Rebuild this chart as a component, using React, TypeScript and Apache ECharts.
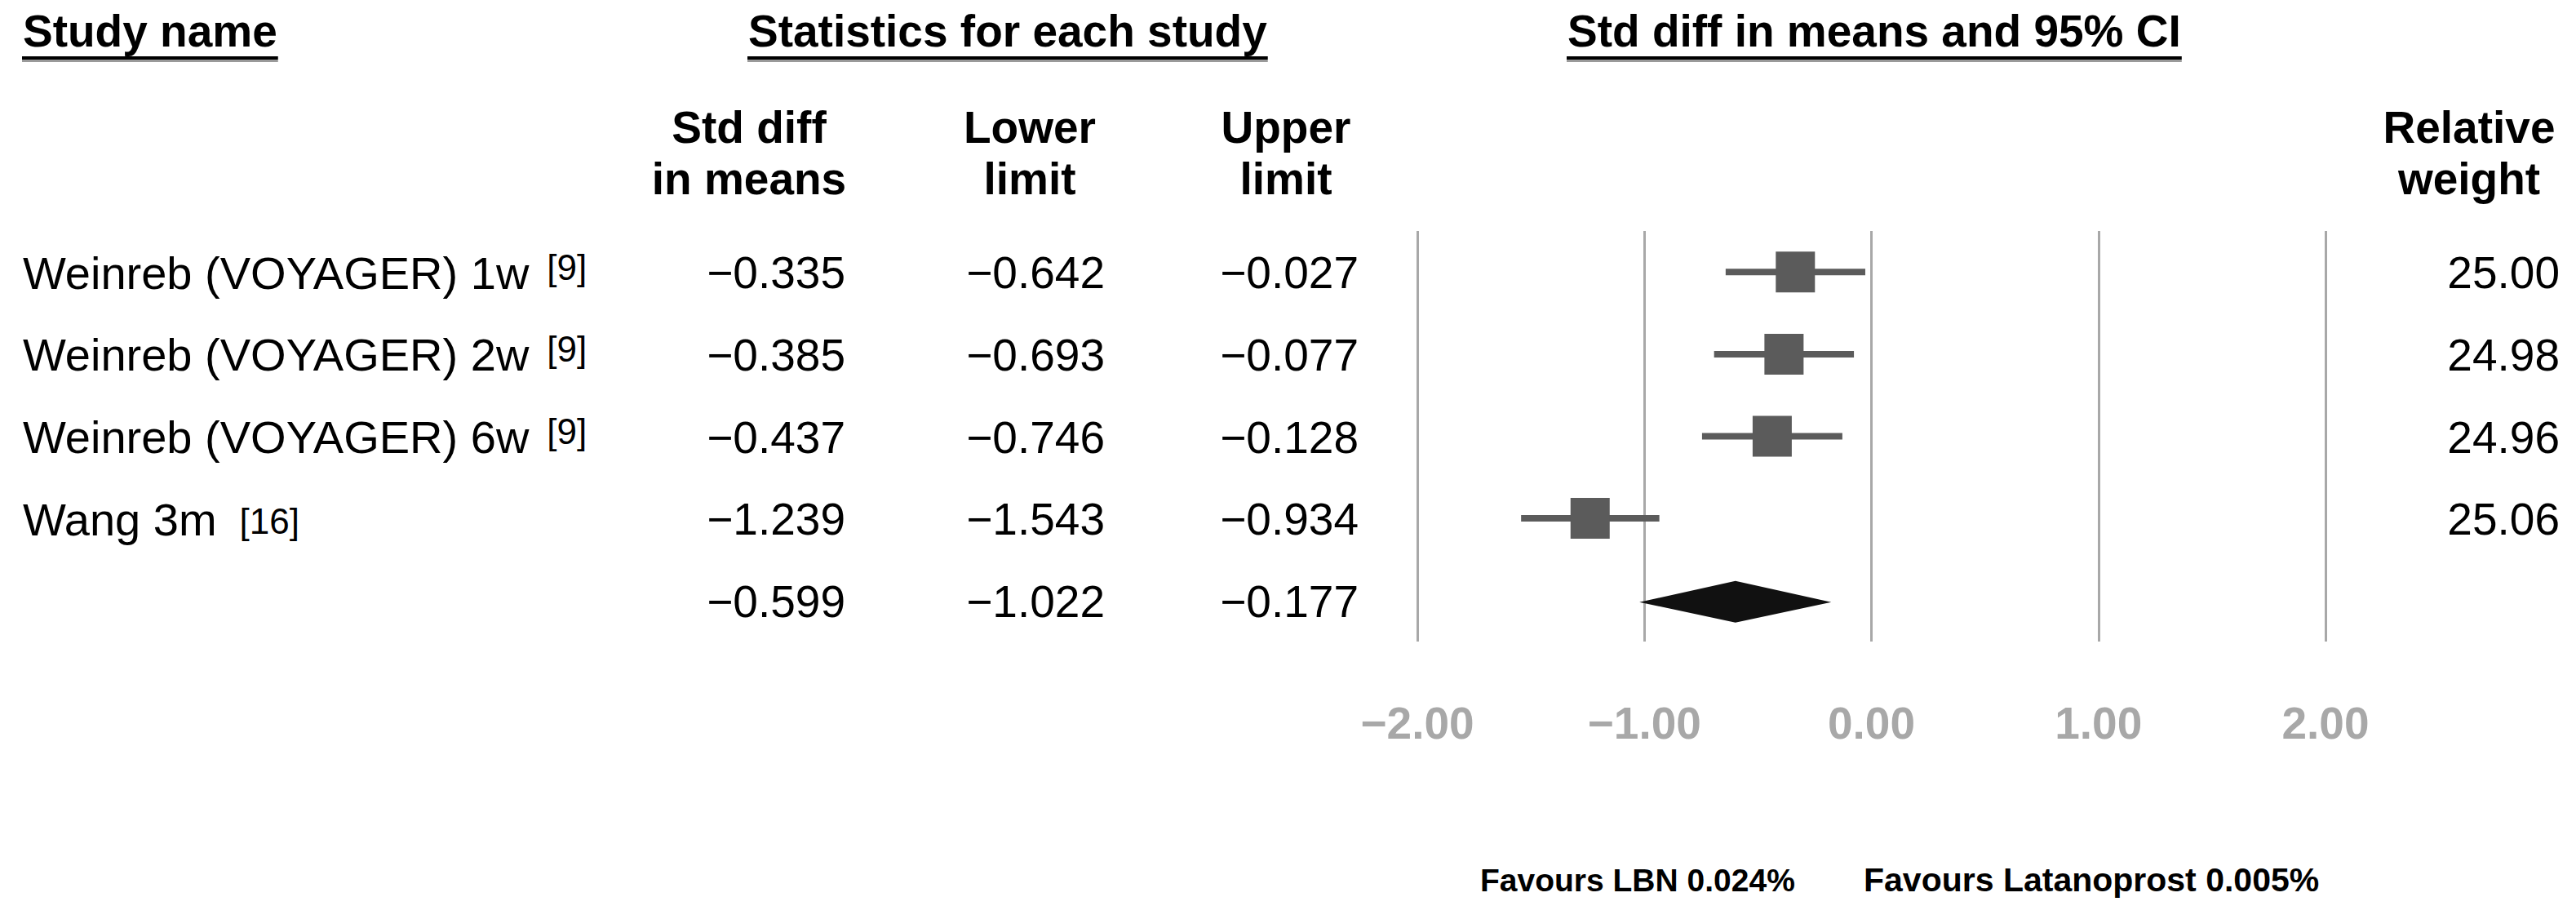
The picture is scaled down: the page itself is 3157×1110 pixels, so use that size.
import React, { useEffect, useRef } from "react";
import * as echarts from "echarts";

// ---------------- data ----------------
const studyNames = [
  "Weinreb (VOYAGER) 1w",
  "Weinreb (VOYAGER) 2w",
  "Weinreb (VOYAGER) 6w",
  "Wang 3m",
];
const studyRefs = ["[9]", "[9]", "[9]", "[16]"];
const stdDiff = [-0.335, -0.385, -0.437, -1.239];
const lowerLimit = [-0.642, -0.693, -0.746, -1.543];
const upperLimit = [-0.027, -0.077, -0.128, -0.934];
const relWeight = [25.0, 24.98, 24.96, 25.06];
const summaryStats = [-0.599, -1.022, -0.177]; // estimate, lower, upper
const rowKeys = ["study1", "study2", "study3", "study4", "summary"];
const xMin = -2;
const xMax = 2;
const xStep = 1;
const sectionHeaders = [
  "Study name",
  "Statistics for each study",
  "Std diff in means and 95% CI",
];
const columnHeaders = [
  ["Std diff", "in means"],
  ["Lower", "limit"],
  ["Upper", "limit"],
  ["Relative", "weight"],
];
const footerTexts = ["Favours LBN 0.024%", "Favours Latanoprost 0.005%"];

// ---------------- layout ----------------
const W = 3157;
const H = 1110;
const FAMILY = '"Liberation Sans", Arial, Helvetica, sans-serif';
const font = (size: number, bold = false) =>
  `${bold ? "bold " : ""}${size}px ${FAMILY}`;
const HEAD_SIZE = 55;
const NAME_SIZE = 56;
const NUM_SIZE = 55;
const SUP_SIZE = 44;
const sectionX = [28, 917, 1921];
const sectionY = 38;
const colHeadX = [918, 1262, 1576, 3026];
const colHeadY = [156, 219];
const numRightX = [1036, 1354, 1665];
const weightRightX = 3137;
const nameX = 28;
const footerX = [1814, 2284];
const footerSize = [39, 41];
const footerY = 1078;

const fmt = (v: number, d: number) =>
  (v < 0 ? "\u2212" : "") + Math.abs(v).toFixed(d);

let measureCtx: CanvasRenderingContext2D | null = null;
const measure = (text: string, f: string) => {
  if (!measureCtx) measureCtx = document.createElement("canvas").getContext("2d");
  if (!measureCtx) return text.length * 25;
  measureCtx.font = f;
  return measureCtx.measureText(text).width;
};

const txt = (
  x: number,
  y: number,
  text: string,
  f: string,
  align: string,
  fill = "#000"
) => ({
  type: "text",
  x,
  y,
  style: {
    text,
    font: f,
    fill,
    align,
    textAlign: align,
    verticalAlign: "middle",
    textVerticalAlign: "middle",
  },
});

export default function App() {
  const ref = useRef<HTMLDivElement>(null);

  useEffect(() => {
    document.body.style.margin = "0";
    if (!ref.current) return;
    const chart = echarts.init(ref.current, undefined, { renderer: "svg" });

    const graphics: any[] = [];
    sectionHeaders.forEach((t, i) => {
      const f = font(HEAD_SIZE, true);
      graphics.push(txt(sectionX[i], sectionY, t, f, "left"));
      const w = measure(t, f);
      graphics.push({
        type: "line",
        shape: { x1: sectionX[i] - 1, y1: 74.5, x2: sectionX[i] + w + 1, y2: 74.5 },
        style: { stroke: "#9a9a9a", lineWidth: 3 },
      });
      graphics.push({
        type: "line",
        shape: { x1: sectionX[i] - 1, y1: 71, x2: sectionX[i] + w + 1, y2: 71 },
        style: { stroke: "#000", lineWidth: 4 },
      });
    });
    columnHeaders.forEach((lines, i) => {
      lines.forEach((t, j) => {
        graphics.push(txt(colHeadX[i], colHeadY[j], t, font(HEAD_SIZE, true), "center"));
      });
    });
    footerTexts.forEach((t, i) => {
      graphics.push(txt(footerX[i], footerY, t, font(footerSize[i], true), "left"));
    });

    const option: any = {
      animation: false,
      backgroundColor: "#fff",
      grid: { left: 1737, right: W - 2850, top: 283, bottom: H - 786 },
      xAxis: {
        type: "value",
        min: xMin,
        max: xMax,
        interval: xStep,
        axisLine: { show: false },
        axisTick: { show: false },
        splitLine: { show: true, lineStyle: { color: "#a8a8a8", width: 3 } },
        axisLabel: {
          show: true,
          showMinLabel: true,
          showMaxLabel: true,
          margin: 72,
          color: "#a8a8a8",
          fontSize: 55,
          fontWeight: "bold",
          fontFamily: FAMILY,
          formatter: (v: number) => fmt(v, 2),
        },
      },
      yAxis: {
        type: "category",
        data: rowKeys,
        inverse: true,
        show: false,
      },
      graphic: graphics,
      series: [
        {
          type: "custom",
          name: "studies",
          clip: false,
          encode: { x: [0, 1, 2], y: 3 },
          data: studyNames.map((_, i) => [stdDiff[i], lowerLimit[i], upperLimit[i], i]),
          renderItem: (params: any, api: any) => {
            const row = api.value(3);
            const [xe, y] = api.coord([api.value(0), row]);
            const xl = api.coord([api.value(1), row])[0];
            const xh = api.coord([api.value(2), row])[0];
            return {
              type: "group",
              children: [
                {
                  type: "line",
                  shape: { x1: xl, y1: y, x2: xh, y2: y },
                  style: { stroke: "#5b5b5b", lineWidth: 8 },
                },
                {
                  type: "rect",
                  shape: { x: xe - 24, y: y - 25, width: 48, height: 50 },
                  style: { fill: "#5b5b5b" },
                },
              ],
            };
          },
        },
        {
          type: "custom",
          name: "summary",
          clip: false,
          encode: { x: [0, 1, 2], y: 3 },
          data: [[summaryStats[0], summaryStats[1], summaryStats[2], rowKeys.length - 1]],
          renderItem: (params: any, api: any) => {
            const row = api.value(3);
            const [xe, y] = api.coord([api.value(0), row]);
            const xl = api.coord([api.value(1), row])[0];
            const xh = api.coord([api.value(2), row])[0];
            return {
              type: "polygon",
              shape: {
                points: [
                  [xl, y + 2],
                  [xe, y - 24],
                  [xh, y + 2],
                  [xe, y + 27],
                ],
              },
              style: { fill: "#111" },
            };
          },
        },
        {
          type: "custom",
          name: "table",
          clip: false,
          silent: true,
          encode: { x: 0, y: 1 },
          data: rowKeys.map((_, i) => [0, i]),
          renderItem: (params: any, api: any) => {
            const i = params.dataIndex;
            const y = api.coord([0, i])[1] + 1;
            const nameFont = font(NAME_SIZE);
            const numFont = font(NUM_SIZE);
            const children: any[] = [];
            if (i < studyNames.length) {
              children.push(txt(nameX, y, studyNames[i], nameFont, "left"));
              const w = measure(studyNames[i], nameFont);
              const isSup = studyRefs[i] === "[9]";
              children.push(
                txt(
                  nameX + w + (isSup ? 22 : 28),
                  y + (isSup ? -7 : 2),
                  studyRefs[i],
                  font(SUP_SIZE),
                  "left"
                )
              );
              const vals = [stdDiff[i], lowerLimit[i], upperLimit[i]];
              vals.forEach((v, k) => children.push(txt(numRightX[k], y, fmt(v, 3), numFont, "right")));
              children.push(txt(weightRightX, y, relWeight[i].toFixed(2), numFont, "right"));
            } else {
              summaryStats.forEach((v, k) =>
                children.push(txt(numRightX[k], y, fmt(v, 3), numFont, "right"))
              );
            }
            return { type: "group", children };
          },
        },
      ],
    };

    chart.setOption(option);
    return () => chart.dispose();
  }, []);

  return <div ref={ref} style={{ width: W, height: H }} />;
}
